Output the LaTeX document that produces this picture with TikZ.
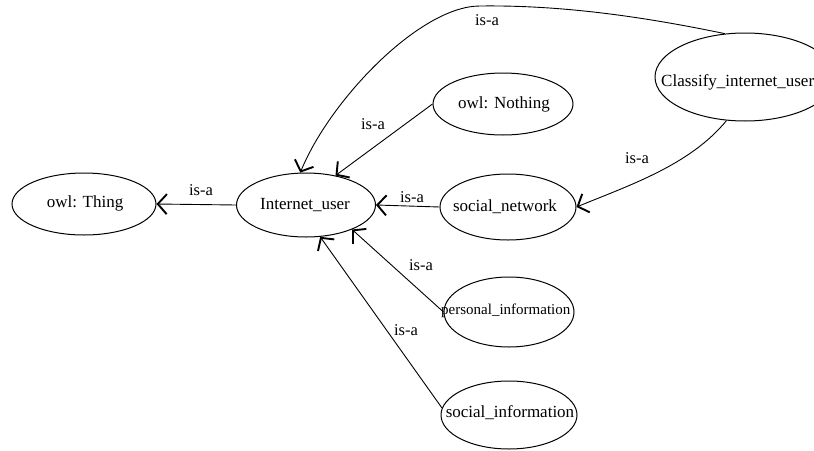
\documentclass[tikz,border=0pt]{standalone}
\usepackage{fontspec}
\setmainfont{Liberation Serif}
\usetikzlibrary{shapes.geometric,arrows.meta}
\begin{document}
\begin{tikzpicture}[x=1pt,y=-1pt,
  cls/.style={draw, ellipse, line width=1pt, inner sep=0pt},
  clstext/.style={font=\fontsize{17}{20}\selectfont, inner sep=0pt},
  isa/.style={line width=0.9pt, -{Straight Barb[length=9pt,width=20pt,line width=1.9pt]}},
  isalabel/.style={font=\fontsize{16.5}{19}\selectfont, inner sep=0pt}]
\clip (0,0) rectangle (814,450);
% class ellipses
\node[cls, minimum width=144pt, minimum height=62pt] (thing) at (84,204) {};
\node[cls, minimum width=139pt, minimum height=64pt] (iu) at (306,205) {};
\node[cls, minimum width=140pt, minimum height=62pt] (nothing) at (503,104) {};
\node[cls, minimum width=136pt, minimum height=66pt] (sn) at (508,207) {};
\node[cls, minimum width=130pt, minimum height=70pt] (pi) at (509,312) {};
\node[cls, minimum width=136pt, minimum height=68pt] (si) at (509,415) {};
\node[cls, minimum width=180pt, minimum height=88pt] (cl) at (745,77) {};
% class names
\node[clstext] (thingtxt) at (85,203) {owl: Thing};
\node[clstext] (iutxt) at (305,205) {Internet\_user};
\node[clstext] (nothingtxt) at (504,104) {owl: Nothing};
\node[clstext] (sntxt) at (505,207) {social\_network};
\node[clstext, font=\fontsize{15}{18}\selectfont, anchor=west] (pitxt) at (441,311) {personal\_information};
\node[clstext] (sitxt) at (510,413) {social\_information};
\node[clstext, anchor=west] (cltxt) at (661,82) {Classify\_internet\_user};
% is-a relations
\draw[isa] (iu.west) -- (thing.east);
\draw[isa] (nothing.west) -- (iu.45);
\draw[isa] (sn.west) -- (iu.east);
\draw[isa] (pi.west) -- (iu.-28);
\draw[isa] (si.174) -- (iu.-66);
\draw[isa] (cl.115) .. controls (640,16) and (560,5) .. (480,6)
                    .. controls (420,6) and (330,100) .. (iu.100);
\draw[isa] (cl.-113) .. controls (690,165) and (630,185) .. (sn.east);
% relation labels
\node[isalabel] (l1) at (201,190) {is-a};
\node[isalabel] (l2) at (373,124) {is-a};
\node[isalabel] (l3) at (487,20) {is-a};
\node[isalabel] (l4) at (412,197) {is-a};
\node[isalabel] (l5) at (637,158) {is-a};
\node[isalabel] (l6) at (421,265) {is-a};
\node[isalabel] (l7) at (406,330) {is-a};
\end{tikzpicture}
\end{document}
